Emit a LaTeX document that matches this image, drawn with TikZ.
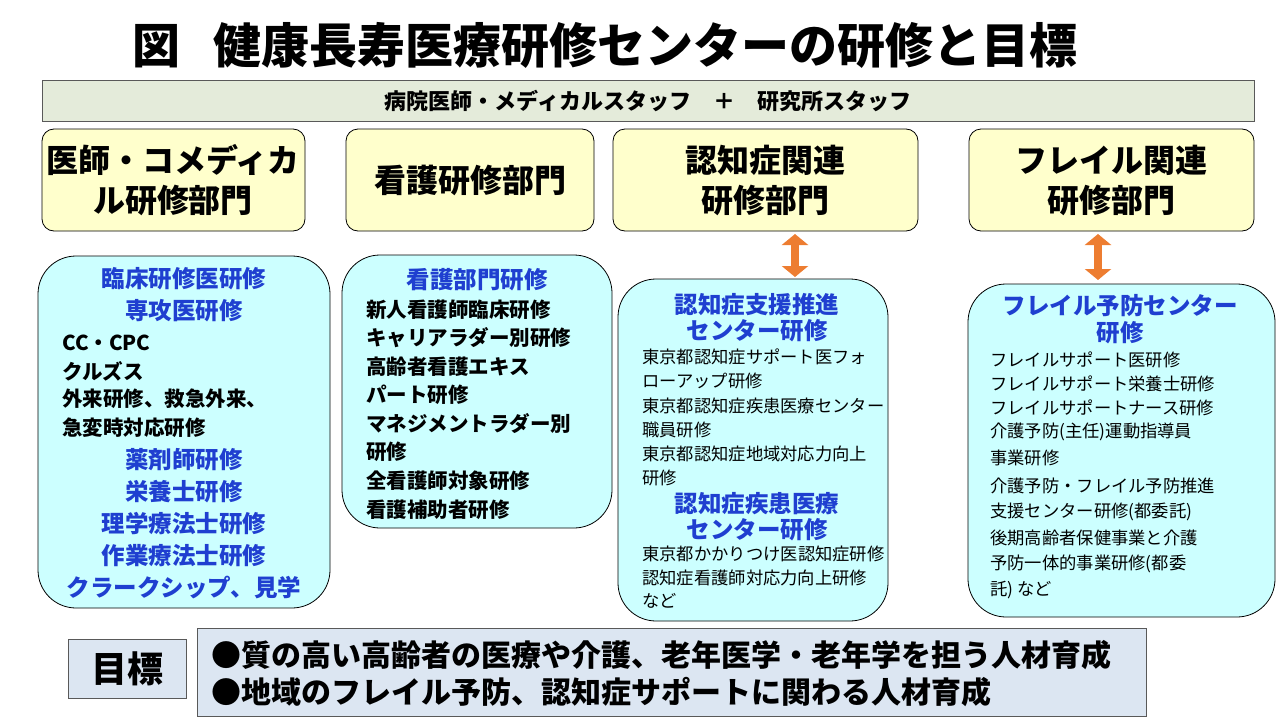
\documentclass[tikz,border=0pt]{standalone}
\usepackage{fontspec}
\setmainfont{Noto Sans CJK JP}
\usetikzlibrary{arrows.meta}
\definecolor{hdr}{HTML}{FFFFCC}
\definecolor{cont}{HTML}{CCFFFF}
\definecolor{ban}{HTML}{E4EBDA}
\definecolor{goal}{HTML}{DCE6F2}
\definecolor{bl}{HTML}{1F3FD0}
\definecolor{org}{HTML}{ED7D31}
\tikzset{
 hdrbox/.style={draw=black,fill=hdr,rounded corners=12pt,line width=0.8pt},
 contbox/.style={draw=black,fill=cont,rounded corners=38pt,line width=0.8pt},
 ht/.style={font=\fontsize{32}{40}\selectfont\bfseries,align=center},
 bt/.style={font=\fontsize{23.5}{26}\selectfont\bfseries,text=bl,inner sep=0pt},
 kt/.style={font=\fontsize{20.5}{22}\selectfont\bfseries,anchor=west,inner sep=0pt},
 nt/.style={font=\fontsize{17.3}{20}\selectfont,anchor=west,inner sep=0pt},
 dar/.style={draw=org,line width=8pt,{Triangle[length=11pt,width=26pt]}-{Triangle[length=11pt,width=26pt]}}
}
\begin{document}
\begin{tikzpicture}[x=1pt,y=-1pt]
\useasboundingbox (0,0) rectangle (1280,720);
\node[font=\fontsize{48}{54}\selectfont\bfseries] (title) at (605,45) {図\hspace{0.7em}健康長寿医療研修センターの研修と目標};
\draw[draw=gray!70!black,fill=ban] (42,80) rectangle (1254,121);
\node[font=\fontsize{22}{26}\selectfont\bfseries] (banner) at (648,101) {病院医師・メディカルスタッフ　＋　研究所スタッフ};
% headers
\draw[hdrbox] (42,129) rectangle (305,231); \node[ht] (h1) at (173,180) {医師・コメディカ\\ル研修部門};
\draw[hdrbox] (346,129) rectangle (594,231); \node[ht] (h2) at (470,180) {看護研修部門};
\draw[hdrbox] (613,129) rectangle (918,231); \node[ht] (h3) at (765,180) {認知症関連\\研修部門};
\draw[hdrbox] (969,129) rectangle (1254,231); \node[ht] (h4) at (1111,180) {フレイル関連\\研修部門};
\coordinate (a1) at (795,234); \coordinate (a2) at (795,277);
\coordinate (b1) at (1098,234); \coordinate (b2) at (1098,280);
\draw[dar] (a1) -- (a2);
\draw[dar] (b1) -- (b2);
% content boxes
\draw[contbox] (38,256) rectangle (330,608);
\draw[contbox] (342,255) rectangle (612,528);
\draw[contbox] (618,279) rectangle (888,621);
\draw[contbox] (968,284) rectangle (1275,617);
% box 1
\node[bt] (p1) at (184,279) {臨床研修医研修};
\node[bt] (p2) at (184,311) {専攻医研修};
\node[kt] (p3) at (62,343) {CC・CPC};
\node[kt] (p4) at (62,371) {クルズス};
\node[kt] (p5) at (62,399) {外来研修、救急外来、};
\node[kt] (p6) at (62,428) {急変時対応研修};
\node[bt] (p7) at (184,460) {薬剤師研修};
\node[bt] (p8) at (184,492) {栄養士研修};
\node[bt] (p9) at (184,524) {理学療法士研修};
\node[bt] (p10) at (184,556) {作業療法士研修};
\node[bt] (p11) at (184,588) {クラークシップ、見学};
% box 2
\node[bt] (q1) at (477,280) {看護部門研修};
\node[kt] (q2) at (366,310) {新人看護師臨床研修};
\node[kt] (q3) at (366,338) {キャリアラダー別研修};
\node[kt] (q4) at (366,367) {高齢者看護エキス};
\node[kt] (q5) at (366,395) {パート研修};
\node[kt] (q6) at (366,424) {マネジメントラダー別};
\node[kt] (q7) at (366,452) {研修};
\node[kt] (q8) at (366,481) {全看護師対象研修};
\node[kt] (q9) at (366,510) {看護補助者研修};
% box 3
\node[bt] (r1) at (757,305) {認知症支援推進};
\node[bt] (r2) at (757,331) {センター研修};
\node[nt] (r3) at (642,357) {東京都認知症サポート医フォ};
\node[nt] (r4) at (642,381) {ローアップ研修};
\node[nt] (r5) at (642,406) {東京都認知症疾患医療センター};
\node[nt] (r6) at (642,430) {職員研修};
\node[nt] (r7) at (642,454) {東京都認知症地域対応力向上};
\node[nt] (r8) at (642,478) {研修};
\node[bt] (r9) at (757,504) {認知症疾患医療};
\node[bt] (r10) at (757,530) {センター研修};
\node[nt] (r11) at (642,554) {東京都かかりつけ医認知症研修};
\node[nt] (r12) at (642,578) {認知症看護師対応力向上研修};
\node[nt] (r13) at (642,601) {など};
% box 4
\node[bt] (s1) at (1120,306) {フレイル予防センター};
\node[bt] (s2) at (1120,333) {研修};
\node[nt] (s3) at (990,360) {フレイルサポート医研修};
\node[nt] (s4) at (990,384) {フレイルサポート栄養士研修};
\node[nt] (s5) at (990,408) {フレイルサポートナース研修};
\node[nt] (s6) at (990,432) {介護予防(主任)運動指導員};
\node[nt] (s7) at (990,458) {事業研修};
\node[nt] (s8) at (990,486) {介護予防・フレイル予防推進};
\node[nt] (s9) at (990,512) {支援センター研修(都委託)};
\node[nt] (s10) at (990,538) {後期高齢者保健事業と介護};
\node[nt] (s11) at (990,564) {予防一体的事業研修(都委};
\node[nt] (s12) at (990,590) {託)\ など};
% goal
\draw[draw=gray!70!black,fill=goal] (68,639) rectangle (186,698);
\node[font=\fontsize{36}{40}\selectfont\bfseries] (g) at (127,669) {目標};
\draw[draw=gray!70!black,fill=goal] (197,628) rectangle (1146,716);
\node[font=\fontsize{30}{34}\selectfont\bfseries,anchor=west] (g1) at (208,655) {●質の高い高齢者の医療や介護、老年医学・老年学を担う人材育成};
\node[font=\fontsize{30}{34}\selectfont\bfseries,anchor=west] (g2) at (208,692) {●地域のフレイル予防、認知症サポートに関わる人材育成};
\end{tikzpicture}
\end{document}
